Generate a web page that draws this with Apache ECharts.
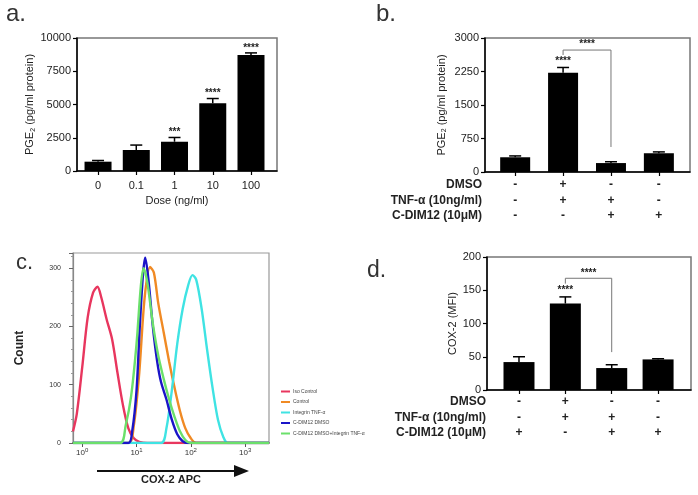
<!DOCTYPE html>
<html><head><meta charset="utf-8">
<script src="https://cdn.jsdelivr.net/npm/echarts@6/dist/echarts.min.js"></script>
<style>html,body{margin:0;padding:0;background:#fff}#c{width:698px;height:495px}</style>
</head><body><div id="c"></div><script>
// ---- panel a data ----
const doseCats = ['0', '0.1', '1', '10', '100'];
const doseMean = [700, 1580, 2200, 5100, 8720];
const doseErrTop = [790, 1950, 2520, 5450, 8880];
const doseStars = ['', '', '***', '****', '****'];
const doseStarY = [0, 0, 2950, 5850, 9250];
// ---- panel b data ----
const pgeMean = [330, 2220, 200, 420];
const pgeErrTop = [360, 2340, 230, 450];
const pgeStars = ['', '****', '', ''];
const pgeStarY = [0, 2480, 0, 0];
const pgeBracket = [[1, 2620], [1, 2730], [2, 2730], [2, 560]];
const pgeBracketStar = [1.5, 2850];
// ---- panel d data ----
const mfiMean = [42, 130, 33, 46];
const mfiErrTop = [50, 140, 38, 47];
const mfiStars = ['', '****', '', ''];
const mfiStarY = [0, 150, 0, 0];
const mfiBracket = [[1, 160], [1, 168], [2, 168], [2, 57]];
const mfiBracketStar = [1.5, 175];
// ---- treatment rows ----
const rowLabels = ['DMSO', 'TNF-\u03b1 (10ng/ml)', 'C-DIM12 (10\u03bcM)'];
const dmsoSigns = ['-', '+', '-', '-'];
const tnfSigns = ['-', '+', '+', '-'];
const cdimSignsB = ['-', '-', '+', '+'];
const cdimSignsD = ['+', '-', '+', '+'];
// ---- panel c histograms (x in log10 units of COX-2 APC) ----
const histNames = ['Iso Control', 'Control', 'Integrin TNF-\u03b1', 'C-DIM12 DMSO', 'C-DIM12 DMSO+Integrin TNF-\u03b1'];
const histColors = ['#e8365e', '#f08a24', '#3fe3e3', '#1a14c8', '#6be06b'];
const isoCurve = [[-0.17,20],[-0.1,50],[0,130],[0.1,215],[0.2,258],[0.28,268],[0.35,250],[0.45,212],[0.55,178],[0.65,120],[0.75,65],[0.85,25],[0.95,8],[1.05,2],[1.2,0],[3.44,0]];
const ctrlCurve = [[-0.17,0],[0.85,0],[0.95,30],[1.05,120],[1.15,250],[1.25,302],[1.32,292],[1.4,240],[1.5,190],[1.6,140],[1.7,95],[1.8,55],[1.9,25],[2.0,8],[2.1,0],[3.44,0]];
const tnfCurve = [[-0.17,0],[1.45,0],[1.55,25],[1.65,90],[1.75,170],[1.85,230],[1.95,270],[2.03,288],[2.1,280],[2.2,230],[2.3,160],[2.4,95],[2.5,40],[2.6,10],[2.68,0],[3.44,0]];
const dmsoCurve = [[-0.17,0],[0.85,0],[0.92,20],[1.0,90],[1.06,200],[1.12,290],[1.16,318],[1.22,280],[1.3,200],[1.38,140],[1.45,105],[1.55,75],[1.65,40],[1.75,15],[1.85,3],[1.95,0],[3.44,0]];
const comboCurve = [[-0.17,0],[0.7,0],[0.8,30],[0.9,80],[1.0,170],[1.08,270],[1.13,300],[1.2,275],[1.3,205],[1.4,150],[1.5,110],[1.6,75],[1.7,45],[1.8,20],[1.9,5],[2.0,0],[3.44,0]];
const histCurves = [isoCurve, ctrlCurve, tnfCurve, dmsoCurve, comboCurve];
const decadeTicks = [0, 1, 2, 3];

const FONT = 'Liberation Sans, Arial, sans-serif';
const TXT = '#222';

function errRender(params, api) {
  const x = api.value(0), m = api.value(1), h = api.value(2);
  const a = api.coord([x, m]), b = api.coord([x, h]);
  const hw = 6;
  return { type: 'group', children: [
    { type: 'line', shape: { x1: a[0], y1: a[1], x2: b[0], y2: b[1] }, style: { stroke: '#000', lineWidth: 1.5 } },
    { type: 'line', shape: { x1: b[0] - hw, y1: b[1], x2: b[0] + hw, y2: b[1] }, style: { stroke: '#000', lineWidth: 1.5 } }
  ]};
}
function textSeries(xi, yi, points, texts) {
  return { type: 'custom', xAxisIndex: xi, yAxisIndex: yi, z: 6, silent: true,
    data: points, encode: { x: 0, y: 1 },
    renderItem: (params, api) => {
      const p = api.coord([api.value(0), api.value(1)]);
      return { type: 'text', x: p[0], y: p[1],
        style: { text: texts[params.dataIndex], font: 'bold 10px ' + FONT, fill: TXT, textAlign: 'center', textVerticalAlign: 'middle' } };
    } };
}
function starSeries(xi, yi, stars, ys) {
  const pts = [], txt = [];
  stars.forEach((s, i) => { if (s) { pts.push([i, ys[i]]); txt.push(s); } });
  return textSeries(xi, yi, pts, txt);
}
function barAxisX(grid, min, max, n, labelFn, margin, name) {
  const vals = Array.from({ length: n }, (_, i) => i);
  return {
    gridIndex: grid, type: 'value', min: min, max: max,
    splitLine: { show: false },
    axisLine: { onZero: false, lineStyle: { color: '#000', width: 1.5 } },
    axisTick: { customValues: vals, length: 4, lineStyle: { color: '#000', width: 1.2 } },
    axisLabel: { customValues: vals, formatter: v => labelFn(Math.round(v)), margin: margin,
      fontFamily: FONT, color: TXT, fontSize: name ? 11 : 12, fontWeight: name ? 'normal' : 'bold', lineHeight: 15.5 },
    name: name || '', nameLocation: 'middle', nameGap: 24,
    nameTextStyle: { fontFamily: FONT, color: TXT, fontSize: 11 }
  };
}
function barAxisY(grid, max, interval, name, gap) {
  return {
    gridIndex: grid, type: 'value', min: 0, max: max, interval: interval,
    splitLine: { show: false },
    axisLine: { show: true, onZero: false, lineStyle: { color: '#000', width: 1.5 } },
    axisTick: { show: true, length: 4, lineStyle: { color: '#000', width: 1.2 } },
    axisLabel: { margin: 6, fontFamily: FONT, color: TXT, fontSize: 11, formatter: v => String(v) },
    name: name, nameLocation: 'middle', nameRotate: 90, nameGap: gap,
    nameTextStyle: { fontFamily: FONT, color: TXT, fontSize: 11,
      rich: { s: { fontSize: 7, verticalAlign: 'bottom', padding: [6, 0, 0, 0], fontFamily: FONT, color: TXT } } }
  };
}
const signFmt = (c) => (i) => dmsoSigns[i] + '\n' + tnfSigns[i] + '\n' + c[i];

const gridStyle = { show: true, borderColor: '#777', borderWidth: 1.5, backgroundColor: 'transparent' };

const series = [
  { type: 'bar', xAxisIndex: 0, yAxisIndex: 0, barWidth: 27, itemStyle: { color: '#000' },
    data: doseMean.map((v, i) => [i, v]) },
  { type: 'custom', xAxisIndex: 0, yAxisIndex: 0, renderItem: errRender, encode: { x: 0, y: 2 },
    data: doseMean.map((v, i) => [i, v, doseErrTop[i]]), z: 4 },
  starSeries(0, 0, doseStars, doseStarY),
  { type: 'bar', xAxisIndex: 1, yAxisIndex: 1, barWidth: 30, itemStyle: { color: '#000' },
    data: pgeMean.map((v, i) => [i, v]) },
  { type: 'custom', xAxisIndex: 1, yAxisIndex: 1, renderItem: errRender, encode: { x: 0, y: 2 },
    data: pgeMean.map((v, i) => [i, v, pgeErrTop[i]]), z: 4 },
  starSeries(1, 1, pgeStars, pgeStarY),
  { type: 'line', xAxisIndex: 1, yAxisIndex: 1, data: pgeBracket, symbol: 'none',
    lineStyle: { color: '#777', width: 1 }, z: 3 },
  textSeries(1, 1, [pgeBracketStar], ['****']),
  { type: 'bar', xAxisIndex: 3, yAxisIndex: 3, barWidth: 31, itemStyle: { color: '#000' },
    data: mfiMean.map((v, i) => [i, v]) },
  { type: 'custom', xAxisIndex: 3, yAxisIndex: 3, renderItem: errRender, encode: { x: 0, y: 2 },
    data: mfiMean.map((v, i) => [i, v, mfiErrTop[i]]), z: 4 },
  starSeries(3, 3, mfiStars, mfiStarY),
  { type: 'line', xAxisIndex: 3, yAxisIndex: 3, data: mfiBracket, symbol: 'none',
    lineStyle: { color: '#777', width: 1 }, z: 3 },
  textSeries(3, 3, [mfiBracketStar], ['****'])
].concat([0, 1, 2, 4, 3].map(k => ({
  type: 'line', name: histNames[k], xAxisIndex: 2, yAxisIndex: 2, data: histCurves[k],
  showSymbol: false, symbol: 'none', smooth: 0.3, color: histColors[k],
  lineStyle: { color: histColors[k], width: 2.4 }, z: 2 + k * 0.1
})));

const option = {
  animation: false,
  textStyle: { fontFamily: FONT },
  grid: [
    Object.assign({ left: 77, top: 38, width: 200, height: 133 }, gridStyle),
    Object.assign({ left: 485, top: 38, width: 205, height: 134 }, gridStyle),
    Object.assign({ left: 73, top: 253, width: 196, height: 190 }, gridStyle, { borderColor: '#999', borderWidth: 1.2 }),
    Object.assign({ left: 487, top: 257, width: 204, height: 133 }, gridStyle)
  ],
  xAxis: [
    barAxisX(0, -0.55, 4.68, 5, i => doseCats[i], 7, 'Dose (ng/ml)'),
    barAxisX(1, -0.63, 3.65, 4, signFmt(cdimSignsB), 5),
    {
      gridIndex: 2, type: 'value', min: -0.17, max: 3.44,
      splitLine: { show: false },
      axisLine: { onZero: false, lineStyle: { color: '#333', width: 1.5 } },
      axisTick: { customValues: decadeTicks, length: 4, lineStyle: { color: '#555' } },
      axisLabel: { customValues: decadeTicks, margin: 4, formatter: v => '{b|10}{s|' + Math.round(v) + '}',
        rich: { b: { fontSize: 8, color: '#333', fontFamily: FONT }, s: { fontSize: 6, color: '#333', verticalAlign: 'top', padding: [0, 0, 5, 0], fontFamily: FONT } } },
      name: 'COX-2 APC', nameLocation: 'middle', nameGap: 31,
      nameTextStyle: { fontFamily: FONT, fontSize: 11, fontWeight: 'bold', color: TXT }
    },
    barAxisX(3, -0.69, 3.71, 4, signFmt(cdimSignsD), 4)
  ],
  yAxis: [
    barAxisY(0, 10000, 2500, 'PGE{s|2} (pg/ml protein)', 34),
    barAxisY(1, 3000, 750, 'PGE{s|2} (pg/ml protein)', 37),
    {
      gridIndex: 2, type: 'value', min: 0, max: 326, interval: 100,
      splitLine: { show: false },
      axisLine: { show: true, onZero: false, lineStyle: { color: '#888', width: 1.2 } },
      axisTick: { show: true, length: 4, lineStyle: { color: '#666' } },
      minorTick: { show: true, splitNumber: 5, length: 2, lineStyle: { color: '#999' } },
      axisLabel: { margin: 12, fontFamily: FONT, color: '#333', fontSize: 7, showMaxLabel: false },
      name: 'Count', nameLocation: 'middle', nameRotate: 90, nameGap: 47,
      nameTextStyle: { fontFamily: FONT, fontSize: 12, fontWeight: 'bold', color: TXT }
    },
    barAxisY(3, 200, 50, 'COX-2 (MFI)', 24)
  ],
  legend: {
    left: 276, top: 384, orient: 'vertical', itemWidth: 9, itemHeight: 2, itemGap: 5.5,
    icon: 'rect', data: histNames.slice(),
    textStyle: { fontSize: 5, color: '#444', fontFamily: FONT, padding: [0, 0, 0, -2] }
  },
  series: series,
  graphic: [
    { type: 'text', left: 6, top: 2, style: { text: 'a.', font: '24px ' + FONT, fill: '#333' } },
    { type: 'text', left: 376, top: 2, style: { text: 'b.', font: '24px ' + FONT, fill: '#333' } },
    { type: 'text', left: 16, top: 252, style: { text: 'c.', font: '22px ' + FONT, fill: '#333' } },
    { type: 'text', left: 367, top: 259, style: { text: 'd.', font: '23px ' + FONT, fill: '#333' } },
    ...rowLabels.map((t, r) => ({ type: 'text', x: 482, y: 185 + r * 15.5,
      style: { text: t, font: 'bold 12px ' + FONT, fill: TXT, textAlign: 'right', textVerticalAlign: 'middle' } })),
    ...rowLabels.map((t, r) => ({ type: 'text', x: 486, y: 402 + r * 15.5,
      style: { text: t, font: 'bold 12px ' + FONT, fill: TXT, textAlign: 'right', textVerticalAlign: 'middle' } })),
    { type: 'line', shape: { x1: 97, y1: 471, x2: 236, y2: 471 }, style: { stroke: '#111', lineWidth: 2 } },
    { type: 'polygon', shape: { points: [[234, 465], [249, 471], [234, 477]] }, style: { fill: '#111' } }
  ]
};
echarts.init(document.getElementById('c')).setOption(option);
</script></body></html>
